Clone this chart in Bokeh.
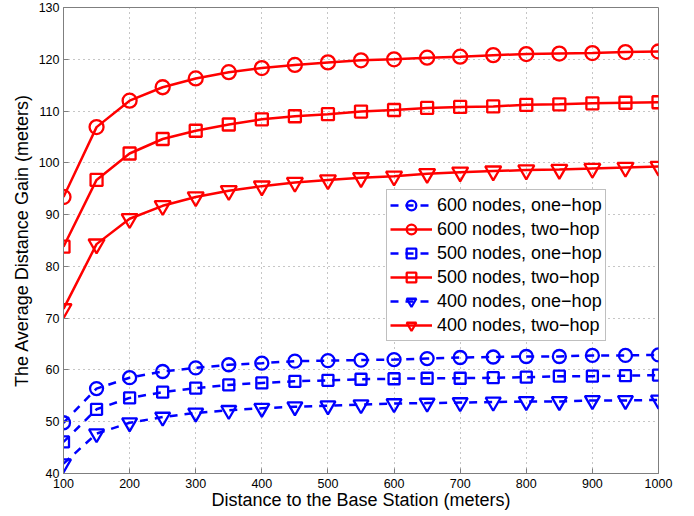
from bokeh.plotting import figure
from bokeh.models import Range1d, Legend, LegendItem, FixedTicker
from bokeh.embed import file_html
from bokeh.resources import INLINE

distance = [100, 150, 200, 250, 300, 350, 400, 450, 500, 550,
            600, 650, 700, 750, 800, 850, 900, 950, 1000]

n600_one = [49.8, 56.4, 58.5, 59.7, 60.4, 61.0, 61.3, 61.7, 61.8, 61.9,
            62.0, 62.2, 62.4, 62.5, 62.6, 62.6, 62.8, 62.8, 62.9]
n600_two = [93.4, 106.9, 112.0, 114.6, 116.3, 117.5, 118.3, 118.9, 119.4, 119.8,
            120.0, 120.3, 120.5, 120.8, 121.0, 121.1, 121.2, 121.4, 121.5]
n500_one = [46.1, 52.4, 54.6, 55.7, 56.5, 57.1, 57.5, 57.8, 58.0, 58.2,
            58.3, 58.4, 58.4, 58.5, 58.6, 58.8, 58.8, 58.9, 59.0]
n500_two = [83.8, 96.7, 101.8, 104.6, 106.2, 107.4, 108.4, 109.0, 109.4, 109.9,
            110.2, 110.6, 110.8, 110.9, 111.2, 111.3, 111.5, 111.6, 111.7]
n400_one = [41.9, 47.7, 49.8, 50.9, 51.7, 52.2, 52.6, 52.9, 53.1, 53.3,
            53.5, 53.6, 53.7, 53.8, 53.9, 53.9, 54.1, 54.1, 54.2]
n400_two = [71.8, 84.3, 89.2, 91.7, 93.4, 94.6, 95.5, 96.2, 96.7, 97.1,
            97.4, 97.9, 98.2, 98.4, 98.6, 98.7, 98.9, 99.1, 99.3]

labels = ["600 nodes, one\u2212hop", "600 nodes, two\u2212hop",
          "500 nodes, one\u2212hop", "500 nodes, two\u2212hop",
          "400 nodes, one\u2212hop", "400 nodes, two\u2212hop"]
x_ticks = [100, 200, 300, 400, 500, 600, 700, 800, 900, 1000]
y_ticks = [40, 50, 60, 70, 80, 90, 100, 110, 120, 130]

FONT = "Liberation Sans"

p = figure(width=680, height=514, output_backend="svg", toolbar_location=None,
           x_range=Range1d(100, 1000), y_range=Range1d(40, 130),
           min_border_left=63, min_border_right=22, min_border_top=7,
           min_border_bottom=41)
p.background_fill_color = "white"
p.border_fill_color = "white"
p.outline_line_color = "#7f7f7f"
p.outline_line_width = 1

for ax in (p.xaxis, p.yaxis):
    ax.axis_line_color = "#7f7f7f"
    ax.major_tick_line_color = "#7f7f7f"
    ax.major_tick_in = 5
    ax.major_tick_out = 0
    ax.minor_tick_line_color = None
    ax.major_label_text_font = FONT
    ax.major_label_text_font_size = "12.5px"
    ax.major_label_text_color = "black"
    ax.axis_label_text_font = FONT
    ax.axis_label_text_font_size = "18px"
    ax.axis_label_text_font_style = "normal"
    ax.axis_label_text_color = "black"

p.xaxis.ticker = FixedTicker(ticks=x_ticks)
p.yaxis.ticker = FixedTicker(ticks=y_ticks)
p.xaxis.axis_label = "Distance to the Base Station (meters)"
p.yaxis.axis_label = "The Average Distance Gain (meters)"
p.xaxis.major_label_standoff = 5
p.xaxis.axis_label_standoff = -1
p.yaxis.major_label_standoff = 4
p.yaxis.axis_label_standoff = 4

for g in (p.xgrid, p.ygrid):
    g.grid_line_color = "#8c8c8c"
    g.grid_line_dash = "1 4"
    g.grid_line_width = 1

series = [
    (n600_one, "blue", "8 7", "circle", 13),
    (n600_two, "red", "solid", "circle", 14),
    (n500_one, "blue", "8 7", "square", 11),
    (n500_two, "red", "solid", "square", 12),
    (n400_one, "blue", "8 7", "inverted_triangle", 15),
    (n400_two, "red", "solid", "inverted_triangle", 16),
]
color_map = {"blue": "#0000ff", "red": "#ff0000"}

items = []
for (vals, col, dash, marker, size), lab in zip(series, labels):
    c = color_map[col]
    ln = p.line(distance, vals, line_color=c, line_width=2.5, line_dash=dash)
    sc = p.scatter(distance, vals, marker=marker, size=size, line_color=c,
                   line_width=2.3, fill_alpha=0)
    items.append(LegendItem(label=lab, renderers=[ln, sc]))

legend = Legend(items=items, location=(323, 132))
legend.label_text_font = FONT
legend.label_text_font_size = "18px"
legend.label_text_color = "black"
legend.glyph_width = 42
legend.glyph_height = 24
legend.label_height = 24
legend.label_standoff = 5
legend.spacing = 0
legend.padding = 3
legend.margin = 0
legend.border_line_color = "#7f7f7f"
legend.border_line_width = 1
legend.background_fill_color = "white"
legend.background_fill_alpha = 1
p.add_layout(legend, "center")

open("out.html", "w").write(file_html(p, INLINE))
